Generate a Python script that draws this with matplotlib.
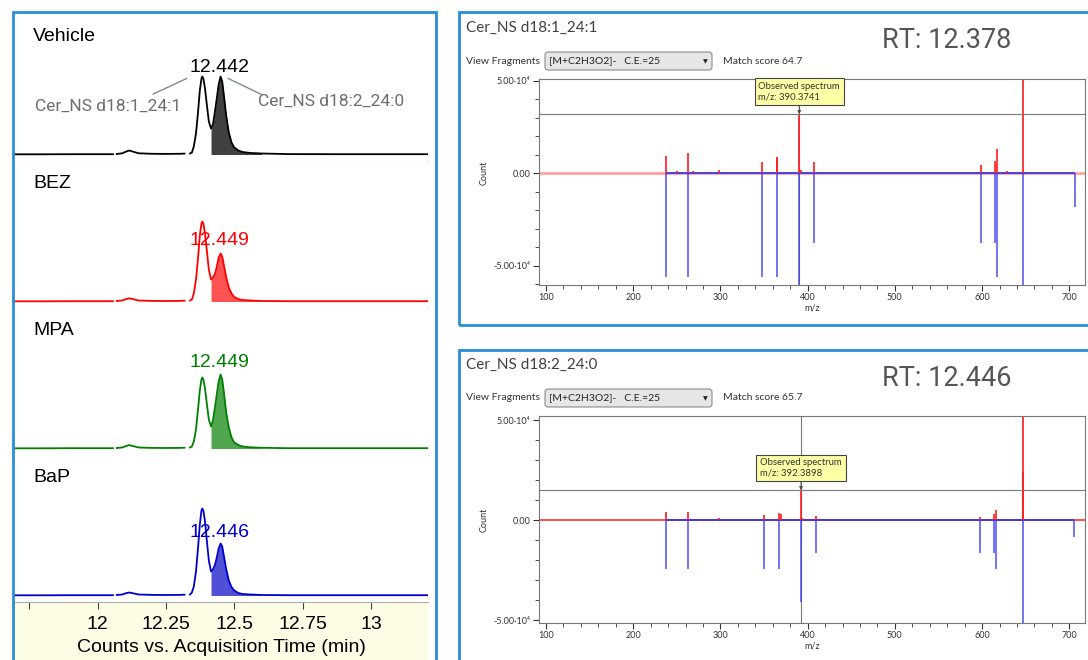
import numpy as np
import matplotlib.pyplot as plt
from matplotlib.patches import Rectangle, FancyBboxPatch
from matplotlib.ticker import FixedLocator, MultipleLocator, FuncFormatter

W, H = 1088, 660
nan = np.nan

# ---- chromatograms (time in min, intensity in arbitrary counts) ----
time_min = [11.694, 11.80, 11.90, 12.00, 12.056, 12.063,
            12.070, 12.090, 12.105, 12.116, 12.130, 12.150, 12.200, 12.250, 12.300, 12.318, 12.328,
            12.338, 12.345, 12.352, 12.360, 12.367, 12.374, 12.380, 12.383, 12.387, 12.393,
            12.400, 12.407, 12.415, 12.422, 12.430, 12.437, 12.443, 12.450, 12.456, 12.463,
            12.470, 12.480, 12.490, 12.500, 12.515, 12.530, 12.560, 12.600, 12.700, 12.900,
            13.100, 13.209]

vehicle = [0.2, 0.2, 0.3, 0.3, 0.3, nan,
           0.5, 1.2, 3.0, 4.0, 2.8, 1.2, 0.7, 0.6, 0.7, 0.9, nan,
           1, 2, 8, 21, 41, 64, 76, 78, 76, 66,
           49, 33, 26, 30, 44, 58, 70, 78, 73, 57,
           40, 22, 12, 7, 4, 2.5, 1.5, 1, 0.4, 0.3,
           0.3, 0.3]
bez = [0.2, 0.2, 0.3, 0.3, 0.3, nan,
       0.5, 1.0, 2.5, 3.2, 2.3, 1.0, 0.6, 0.5, 0.6, 0.8, nan,
       1, 2, 8, 22, 42, 66, 78, 80, 78, 68,
       50, 32, 22, 24, 28, 36, 44, 48, 45, 35,
       25, 14, 8, 4.5, 2.5, 1.5, 1, 0.5, 0.3, 0.3,
       0.3, 0.3]
mpa = [0.2, 0.2, 0.3, 0.3, 0.3, nan,
       0.5, 1.0, 2.6, 3.4, 2.4, 1.0, 0.6, 0.5, 0.6, 0.8, nan,
       1, 2, 7, 19, 38, 58, 69, 71, 69, 60,
       44, 29, 22, 28, 42, 56, 67, 74, 69, 54,
       37, 21, 11, 6, 3.5, 2, 1.2, 0.7, 0.3, 0.3,
       0.3, 0.3]
bap = [0.2, 0.2, 0.3, 0.3, 0.3, nan,
       0.5, 1.0, 2.4, 3.0, 2.2, 1.0, 0.6, 0.5, 0.6, 0.8, nan,
       1, 3, 9, 24, 46, 71, 85, 87, 85, 74,
       54, 35, 24, 26, 31, 39, 47, 52, 49, 38,
       27, 15, 8.5, 5, 2.5, 1.5, 1, 0.5, 0.3, 0.3,
       0.3, 0.3]

samples = ['Vehicle', 'BEZ', 'MPA', 'BaP']
traces = [vehicle, bez, mpa, bap]
rt_labels = ['12.442', '12.449', '12.449', '12.446']
time_ticks = [11.75, 12, 12.25, 12.5, 12.75, 13]
time_ticklabels = ['', '12', '12.25', '12.5', '12.75', '13']
peak_start, peak_end = 12.415, 12.600

# ---- MS/MS spectra (m/z, counts) ----
mz_obs1 = [237.2, 250.0, 263.2, 268.2, 298.4, 347.3, 364.3, 365.4, 390.37, 392.2,
           407.5, 598.6, 614.9, 617.2, 628.6, 647.1]
cnt_obs1 = [0.95e4, 0.12e4, 1.08e4, 0.12e4, 0.20e4, 0.63e4, 0.87e4, 0.80e4, 3.20e4, 0.20e4,
            0.63e4, 0.45e4, 0.65e4, 1.32e4, 0.10e4, 9.0e4]
mz_lib1 = [237.2, 263.2, 347.3, 364.3, 390.4, 407.5, 598.6, 614.9, 617.2, 647.1, 706.3]
cnt_lib1 = [-5.6e4, -5.6e4, -5.6e4, -5.6e4, -10e4, -3.76e4, -3.76e4, -3.76e4, -5.6e4, -10e4, -1.84e4]

mz_obs2 = [237.2, 262.8, 298.0, 350.2, 367.5, 369.0, 392.39, 394.0, 409.2, 597.7,
           614.0, 616.0, 646.9, 647.1]
cnt_obs2 = [0.42e4, 0.40e4, 0.12e4, 0.25e4, 0.37e4, 0.30e4, 1.49e4, 0.10e4, 0.20e4, 0.17e4,
            0.32e4, 0.50e4, 2.42e4, 9.0e4]
mz_lib2 = [237.2, 262.8, 350.2, 367.5, 392.4, 409.2, 597.7, 614.0, 616.0, 647.0, 705.0]
cnt_lib2 = [-2.47e4, -2.47e4, -2.47e4, -2.47e4, -4.08e4, -1.63e4, -1.63e4, -1.63e4, -2.47e4, -10e4, -0.83e4]

compounds = ['Cer_NS d18:1_24:1', 'Cer_NS d18:2_24:0']
rts = ['RT: 12.378', 'RT: 12.446']
scores = ['Match score 64.7', 'Match score 65.7']
selected_mz = [390.3741, 392.3898]
selected_cnt = [3.20e4, 1.49e4]

plt.rcParams['font.family'] = ['Liberation Sans', 'DejaVu Sans']
UI = ['Lato', 'DejaVu Sans']
NARROW = ['Roboto', 'Liberation Sans']
FRAME = '#2a8ed6'

fig = plt.figure(figsize=(10.88, 6.6), dpi=100)


def box(x0, y0, x1, y1):
    return [x0 / W, 1 - y1 / H, (x1 - x0) / W, (y1 - y0) / H]


def fx(x, y):
    return x / W, 1 - y / H


# frames and yellow axis band
for x0, y0, x1, y1 in [(13, 12, 436, 668), (459, 12, 1095, 325), (459, 350, 1095, 668)]:
    fig.add_artist(Rectangle((x0 / W, 1 - y1 / H), (x1 - x0) / W, (y1 - y0) / H,
                             transform=fig.transFigure, fill=False, ec=FRAME, lw=2))
fig.add_artist(Rectangle((14 / W, 0), 414 / W, 58 / H, transform=fig.transFigure,
                         fc='#fdfce4', ec='none', zorder=0))

colors = ['#000000', '#ff0000', '#008000', '#0000cc']
fills = ['#404040', '#ff5252', '#4fa64f', '#5050d6']
label_h = [87, 61, 86, 63]

t = np.array(time_min)
sel = (t >= peak_start) & (t <= peak_end)
for i in range(4):
    y0 = 14 + 147 * i
    ax = fig.add_axes(box(14, y0, 428, y0 + 147))
    y = np.array(traces[i], dtype=float)
    ax.fill_between(t[sel], 0, y[sel], color=fills[i], lw=0)
    ax.plot(t, y, color=colors[i], lw=1.3)
    ax.set_xlim(11.694, 13.209)
    ax.set_ylim(-6.5, 140.5)
    ax.set_yticks([])
    for s in ['left', 'right', 'top']:
        ax.spines[s].set_visible(False)
    ax.set_xticks(time_ticks)
    ax.text(0.046, 0.85, samples[i], transform=ax.transAxes, fontsize=14, va='center')
    ax.text(12.445, label_h[i], rt_labels[i], color=colors[i], fontsize=14,
            ha='center', va='center')
    if i < 3:
        ax.spines['bottom'].set_color('#d6d6c0')
        ax.tick_params(axis='x', length=3, color='#555555', labelbottom=False)
    else:
        ax.spines['bottom'].set_color('#b0b0b0')
        ax.set_xticklabels(time_ticklabels)
        ax.tick_params(axis='x', length=5, color='#444444', labelsize=14, pad=5)
    if i == 0:
        ax.text(12.040, 48, compounds[0], color='#6e6e6e', fontsize=12.5, family=NARROW,
                ha='center', va='center')
        ax.text(12.855, 53, compounds[1], color='#6e6e6e', fontsize=12.5, family=NARROW,
                ha='center', va='center')
        ax.plot([12.2035, 12.3258], [60.5, 76], color='#7f8c8c', lw=1)
        ax.plot([12.478, 12.600], [76, 60], color='#7f8c8c', lw=1)

fig.text(*fx(221, 647), 'Counts vs. Acquisition Time (min)', fontsize=14, ha='center', va='center')


def ylab(v, pos):
    if v > 0:
        return '5.00\u00b710\u2074'
    if v < 0:
        return '-5.00\u00b710\u2074'
    return '0.00'


spectra = [(mz_obs1, cnt_obs1, mz_lib1, cnt_lib1, (-6.05e4, 5.1e4)),
           (mz_obs2, cnt_obs2, mz_lib2, cnt_lib2, (-5.15e4, 5.2e4))]
for k in range(2):
    off = 337 * k
    mo, co, ml, cl, yl = spectra[k]
    fig.text(*fx(466, 28 + off), compounds[k], fontsize=11, family=UI, color='#404040', va='center')
    fig.text(*fx(882, 41 + off), rts[k], fontsize=19.5, family=NARROW, color='#555555', va='center')
    fig.text(*fx(466, 61 + off), 'View Fragments', fontsize=7.5, family=UI, color='#333333', va='center')
    fig.add_artist(FancyBboxPatch((545 / 100, (H - 70 - off) / 100), 1.67, 0.18,
                                  boxstyle='round,pad=0,rounding_size=0.03',
                                  transform=fig.dpi_scale_trans, fc='#e6e6e6', ec='#8c8c8c', lw=0.8))
    fig.text(*fx(549, 61 + off), '[M+C2H3O2]-   C.E.=25', fontsize=7.5, family=UI, color='#222222', va='center')
    fig.text(*fx(705, 62 + off), '\u25bc', fontsize=4.5, family=['DejaVu Sans'], color='#222222',
             ha='center', va='center')
    fig.text(*fx(723, 61 + off), scores[k], fontsize=7.5, family=UI, color='#333333', va='center')

    ax = fig.add_axes(box(539, 79 + off, 1085, 285 + off if k == 0 else 623))
    ax.axhline(0, color='#ff3030', lw=2 if k == 0 else 1.2, alpha=0.45 if k == 0 else 1)
    ax.hlines(0, min(ml), max(ml), color='#3030e8', lw=1.2)
    ax.vlines(mo, 0, co, color='#ff1a1a', lw=1.2)
    ax.vlines(ml, 0, cl, color='#4040f0', lw=1.2, alpha=0.85)
    ax.axhline(selected_cnt[k], color='#7a7a7a', lw=0.8)
    ax.axvline(selected_mz[k], color='#7a7a7a', lw=0.8, zorder=0.5)
    ax.annotate('Observed spectrum\nm/z: %.4f' % selected_mz[k], xy=(selected_mz[k], selected_cnt[k]),
                xytext=(0, 9), textcoords='offset points', ha='center', va='bottom',
                fontsize=6.8, family=UI, color='#333333', multialignment='left',
                bbox=dict(boxstyle='square,pad=0.4', fc='#ffffa6', ec='#444444', lw=0.8),
                arrowprops=dict(arrowstyle='-|>', color='#444444', lw=0.6, mutation_scale=5,
                                shrinkA=0, shrinkB=0))
    ax.set_xlim(92, 718)
    ax.set_ylim(*yl)
    ax.xaxis.set_major_locator(MultipleLocator(100))
    ax.xaxis.set_minor_locator(MultipleLocator(20))
    ax.yaxis.set_major_locator(FixedLocator([-5e4, 0, 5e4]))
    ax.yaxis.set_minor_locator(MultipleLocator(1e4))
    ax.yaxis.set_major_formatter(FuncFormatter(ylab))
    ax.tick_params(which='both', direction='out', color='#333333', labelsize=6.5,
                   labelcolor='#333333', labelfontfamily=UI)
    ax.tick_params(which='major', length=4, pad=2)
    ax.tick_params(which='minor', length=3)
    for s in ax.spines.values():
        s.set_color('#777777')
        s.set_linewidth(0.8)
    ax.set_xlabel('m/z', fontsize=6.5, family=UI, color='#333333', labelpad=1)
    fig.text(*fx(484, 173 + 347 * k), 'Count', fontsize=6.5, family=UI, color='#333333',
             rotation=90, ha='center', va='center')

fig.savefig('out.png', dpi=100)
